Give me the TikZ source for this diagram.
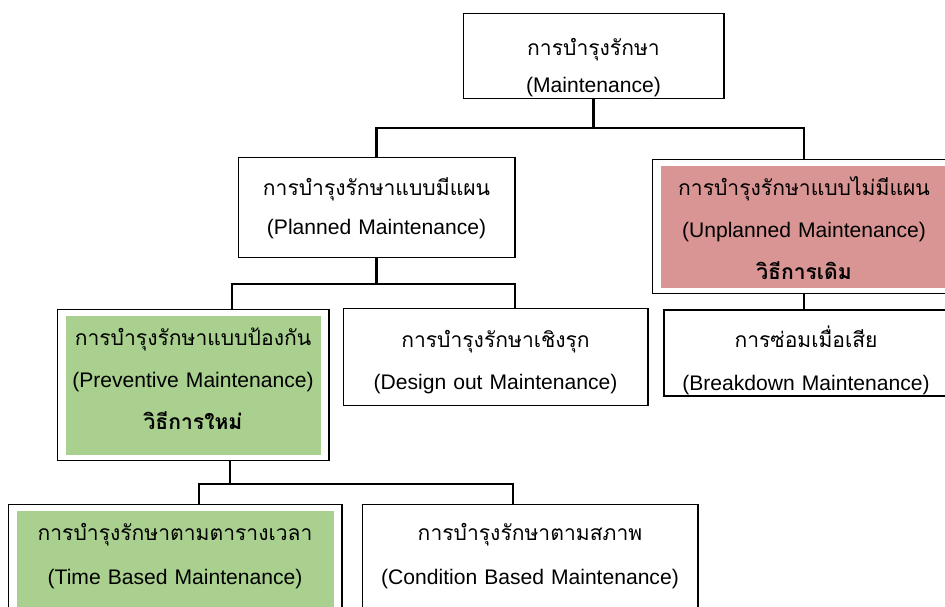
\documentclass[tikz,border=0pt]{standalone}
\usepackage{fontspec}
\setmainfont{Liberation Sans}
\newfontfamily\thaifont[Script=Thai]{Loma}
\definecolor{newgreen}{RGB}{169,208,142}
\definecolor{oldred}{RGB}{217,149,148}
\begin{document}
\begin{tikzpicture}[x=0.02cm,y=-0.02cm,
	box/.style={draw,line width=0.6pt,anchor=north,inner sep=0pt,align=center,font=\fontsize{12}{24}\selectfont},
	inset/.style={path picture={\fill[#1] ([shift={(0.17cm,-0.12cm)}]path picture bounding box.north west) rectangle ([shift={(-0.15cm,0.11cm)}]path picture bounding box.south east);}},
	link/.style={line width=1.2pt}]
	\useasboundingbox (0,0) rectangle (945,606);
	\clip (0,0) rectangle (945,606);
	\node[box,text width=5.22cm,text height=0.84cm,text depth=0.86cm,font=\fontsize{12}{21}\selectfont] (mt) at (593.5,13) {{\thaifont การบำรุงรักษา}\\(Maintenance)};
	\node[box,text width=5.54cm,text height=0.76cm,text depth=1.24cm,font=\fontsize{12}{22}\selectfont] (planned) at (376.5,157) {{\thaifont การบำรุงรักษาแบบมีแผน}\\(Planned Maintenance)};
	\node[box,inset=oldred,text width=6.08cm,text height=0.72cm,text depth=1.96cm] (unplanned) at (804,159) {{\thaifont การบำรุงรักษาแบบไม่มีแผน}\\(Unplanned Maintenance)\\{\thaifont\bfseries วิธีการเดิม}};
	\node[box,line width=1.1pt,text width=5.68cm,text height=0.76cm,text depth=0.96cm] (breakdown) at (806,309) {{\thaifont การซ่อมเมื่อเสีย}\\(Breakdown Maintenance)};
	\node[box,inset=newgreen,text width=5.44cm,text height=0.72cm,text depth=2.3cm] (prevent) at (193,309) {{\thaifont การบำรุงรักษาแบบป้องกัน}\\(Preventive Maintenance)\\{\thaifont\bfseries วิธีการใหม่}};
	\node[box,text width=6.1cm,text height=0.78cm,text depth=1.16cm] (design) at (495.5,308) {{\thaifont การบำรุงรักษาเชิงรุก}\\(Design out Maintenance)};
	\node[box,inset=newgreen,text width=6.68cm,text height=0.72cm,text depth=3cm,font=\fontsize{12}{25}\selectfont] (timebased) at (175,504) {{\thaifont การบำรุงรักษาตามตารางเวลา}\\(Time Based Maintenance)};
	\node[box,text width=6.72cm,text height=0.72cm,text depth=3cm,font=\fontsize{12}{25}\selectfont] (condition) at (530,504) {{\thaifont การบำรุงรักษาตามสภาพ}\\(Condition Based Maintenance)};
	
	\draw[link] (mt.south) -- ++(0,29) coordinate (bus1);
	\draw[link] (planned.north) |- (bus1) -| (unplanned.north);
	\draw[link] (planned.south) -- ++(0,26) coordinate (bus2);
	\draw[link] ([xshift=0.78cm]prevent.north) |- (bus2) -| ([xshift=0.39cm]design.north);
	\draw[link] ([xshift=0.74cm]prevent.south) -- ++(0,23) coordinate (bus3);
	\draw[link] ([xshift=0.48cm]timebased.north) |- (bus3) -| ([xshift=-0.34cm]condition.north);
	\draw[link] (unplanned.south) -- (unplanned.south |- breakdown.north);
\end{tikzpicture}
\end{document}
